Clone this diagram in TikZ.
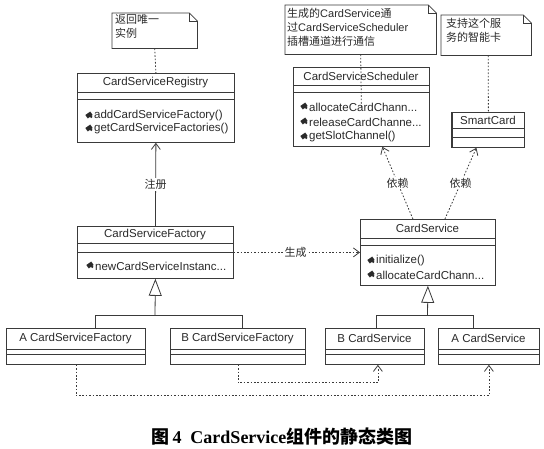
\documentclass[tikz,border=0pt]{standalone}
\usepackage{fontspec}
\setmainfont{Liberation Sans}
\newfontfamily\cjk{Noto Sans CJK SC}
\newfontfamily\capserif{Liberation Serif}
\usetikzlibrary{arrows.meta,calc}
\definecolor{ln}{HTML}{3A3A3A}
\definecolor{tx}{HTML}{2A2A2A}
\tikzset{
  classbox/.style={draw=ln, line width=0.8pt, fill=white, inner sep=0pt, anchor=north west},
  sepline/.style={draw=ln, line width=0.8pt},
  nm/.style={text=tx, font=\fontsize{11.5}{13}\selectfont, inner sep=0pt},
  op/.style={text=tx, font=\fontsize{11.5}{13}\selectfont, inner sep=0pt, anchor=west},
  notebox/.style={draw=none, inner sep=0pt, anchor=north west},
  noteline/.style={draw=ln, line width=0.8pt},
  notetext/.style={text=tx, font=\fontsize{11}{14}\selectfont, inner sep=0pt, anchor=north west, align=left},
  dotline/.style={draw=ln, line width=0.8pt, dash pattern=on 1.6pt off 1.8pt},
  depline/.style={draw=ln, line width=0.8pt, dash pattern=on 1.6pt off 1.8pt, -{Straight Barb[length=6pt,width=9pt]}},
  assoc/.style={draw=ln, line width=0.8pt, -{Straight Barb[length=6pt,width=9pt]}},
  gen/.style={draw=ln, line width=0.8pt, -{Triangle[open,length=17pt,width=13pt,fill=white]}},
  plain/.style={draw=ln, line width=0.8pt},
  lbl/.style={text=tx, fill=white, inner sep=1pt, font=\fontsize{11}{13}\selectfont\cjk},
  opic/.pic={\fill[tx, rotate=35] (-3,-2.1) rectangle (3,2.1); \fill[tx] (2.2,1.8) circle (1.3pt);}
}
\begin{document}
\begin{tikzpicture}[x=1pt, y=-1pt]
\useasboundingbox (0,0) rectangle (544,448);

% ---------- notes ----------
\node[notebox, minimum width=85pt, minimum height=35pt] (n1) at (112,13) {};
\draw[noteline] (n1.north west) -- ([xshift=-8pt]n1.north east) -- ([yshift=-8pt]n1.north east) -- (n1.south east) -- (n1.south west) -- cycle;
\draw[noteline] ([xshift=-8pt]n1.north east) |- ([yshift=-8pt]n1.north east);
\node[notetext] at (115,14) {{\cjk 返回唯一}\\{\cjk 实例}};

\node[notebox, minimum width=151pt, minimum height=49pt] (n2) at (285,5) {};
\draw[noteline] (n2.north west) -- ([xshift=-8pt]n2.north east) -- ([yshift=-8pt]n2.north east) -- (n2.south east) -- (n2.south west) -- cycle;
\draw[noteline] ([xshift=-8pt]n2.north east) |- ([yshift=-8pt]n2.north east);
\node[notetext] at (287,8) {{\cjk 生成的}CardService{\cjk 通}\\{\cjk 过}CardServiceScheduler\\{\cjk 插槽通道进行通信}};

\node[notebox, minimum width=90pt, minimum height=40pt] (n3) at (441,15) {};
\draw[noteline] (n3.north west) -- ([xshift=-8pt]n3.north east) -- ([yshift=-8pt]n3.north east) -- (n3.south east) -- (n3.south west) -- cycle;
\draw[noteline] ([xshift=-8pt]n3.north east) |- ([yshift=-8pt]n3.north east);
\node[notetext] at (446,18) {{\cjk 支持这个服}\\{\cjk 务的智能卡}};

% ---------- classes ----------
\node[classbox, minimum width=157pt, minimum height=69pt] (reg) at (77,73) {};
\draw[sepline] (reg.west |- 0,92) -- (reg.east |- 0,92);
\draw[sepline] (reg.west |- 0,99) -- (reg.east |- 0,99);
\node[nm] at (155.5,83) {CardServiceRegistry};
\pic at (89,115) {opic};
\node[op] at (94,116) {addCardServiceFactory()};
\pic at (89,128) {opic};
\node[op] at (94,129) {getCardServiceFactories()};

\node[classbox, minimum width=156pt, minimum height=52pt] (fac) at (77,226) {};
\draw[sepline] (fac.west |- 0,243) -- (fac.east |- 0,243);
\draw[sepline] (fac.west |- 0,252) -- (fac.east |- 0,252);
\node[nm] at (155,235) {CardServiceFactory};
\pic at (90,265) {opic};
\node[op] at (95,266) {newCardServiceInstanc...};

\node[classbox, minimum width=139pt, minimum height=36pt] (afac) at (6,328) {};
\draw[sepline] (afac.west |- 0,349) -- (afac.east |- 0,349);
\draw[sepline] (afac.west |- 0,354) -- (afac.east |- 0,354);
\node[nm] at (75.5,338.5) {A CardServiceFactory};

\node[classbox, minimum width=135pt, minimum height=36pt] (bfac) at (170,328) {};
\draw[sepline] (bfac.west |- 0,349) -- (bfac.east |- 0,349);
\draw[sepline] (bfac.west |- 0,354) -- (bfac.east |- 0,354);
\node[nm] at (237.5,338.5) {B CardServiceFactory};

\node[classbox, minimum width=136pt, minimum height=79pt] (sched) at (293,67) {};
\draw[sepline] (sched.west |- 0,85) -- (sched.east |- 0,85);
\draw[sepline] (sched.west |- 0,92) -- (sched.east |- 0,92);
\node[nm] at (361,76) {CardServiceScheduler};
\pic at (304,106) {opic};
\node[op] at (309,107) {allocateCardChann...};
\pic at (304,121) {opic};
\node[op] at (309,122) {releaseCardChanne...};
\pic at (304,136) {opic};
\node[op] at (309,137) {getSlotChannel()};

\node[classbox, minimum width=72pt, minimum height=35pt] (smart) at (452,112) {};
\draw[sepline] (smart.west |- 0,128) -- (smart.east |- 0,128);
\draw[sepline] (smart.west |- 0,137) -- (smart.east |- 0,137);
\draw[draw=ln, line width=1.8pt] (smart.north west) -- (smart.south west);
\node[nm] at (488,120) {SmartCard};

\node[classbox, minimum width=135pt, minimum height=66pt] (cs) at (360,219) {};
\draw[sepline] (cs.west |- 0,238) -- (cs.east |- 0,238);
\draw[sepline] (cs.west |- 0,245) -- (cs.east |- 0,245);
\node[nm] at (427.5,228.5) {CardService};
\pic at (371,260) {opic};
\node[op] at (376,261) {initialize()};
\pic at (371,274) {opic};
\node[op] at (376,275) {allocateCardChann...};

\node[classbox, minimum width=99pt, minimum height=36pt] (bcs) at (325,328) {};
\draw[sepline] (bcs.west |- 0,349) -- (bcs.east |- 0,349);
\draw[sepline] (bcs.west |- 0,354) -- (bcs.east |- 0,354);
\node[nm] at (374.5,338.5) {B CardService};

\node[classbox, minimum width=101pt, minimum height=36pt] (acs) at (438,328) {};
\draw[sepline] (acs.west |- 0,349) -- (acs.east |- 0,349);
\draw[sepline] (acs.west |- 0,354) -- (acs.east |- 0,354);
\node[nm] at (488.5,338.5) {A CardService};

% ---------- note connectors ----------
\draw[dotline] (n1.south) -- (reg.north);
\draw[dotline] (n2.south) -- (sched.center);
\draw[dotline] ([xshift=2pt]n3.south) -- (smart.north);

% ---------- association ----------
\draw[assoc] (fac.north) -- node[lbl] {注册} (reg.south);

% ---------- create ----------
\draw[depline] (fac.east) -- node[lbl, pos=0.49] {生成} (cs.west);

% ---------- dependencies ----------
\draw[depline] ([xshift=-15pt]cs.north) -- node[lbl] {依赖} ([xshift=21pt]sched.south);
\draw[depline] ([xshift=17pt]cs.north) -- node[lbl] {依赖} ([xshift=-12pt]smart.south);

% ---------- generalizations ----------
\coordinate (j1) at (155,315);
\coordinate (ja) at (95,328);
\coordinate (jb) at (242,328);
\draw[plain] (ja) |- (j1);
\draw[plain] (jb) |- (j1);
\draw[gen] (j1) -- (fac.south);

\coordinate (j2) at (427.5,315);
\coordinate (jc) at (376,328);
\coordinate (jd) at (473,328);
\draw[plain] (jc) |- (j2);
\draw[plain] (jd) |- (j2);
\draw[gen] (j2) -- (cs.south);

% ---------- realizations (dotted) ----------
\draw[depline] (afac.south) -- ++(0,31) -| (acs.south);
\draw[depline] (bfac.south) -- ++(0,18) -| ([xshift=3pt]bcs.south);

% ---------- caption ----------
\node[text=black, inner sep=0pt] (cap) at (282,437) {\fontsize{18}{20}\selectfont{\cjk\bfseries 图}{\capserif\bfseries\,4\enspace CardService}{\cjk\bfseries 组件的静态类图}};
\end{tikzpicture}
\end{document}
